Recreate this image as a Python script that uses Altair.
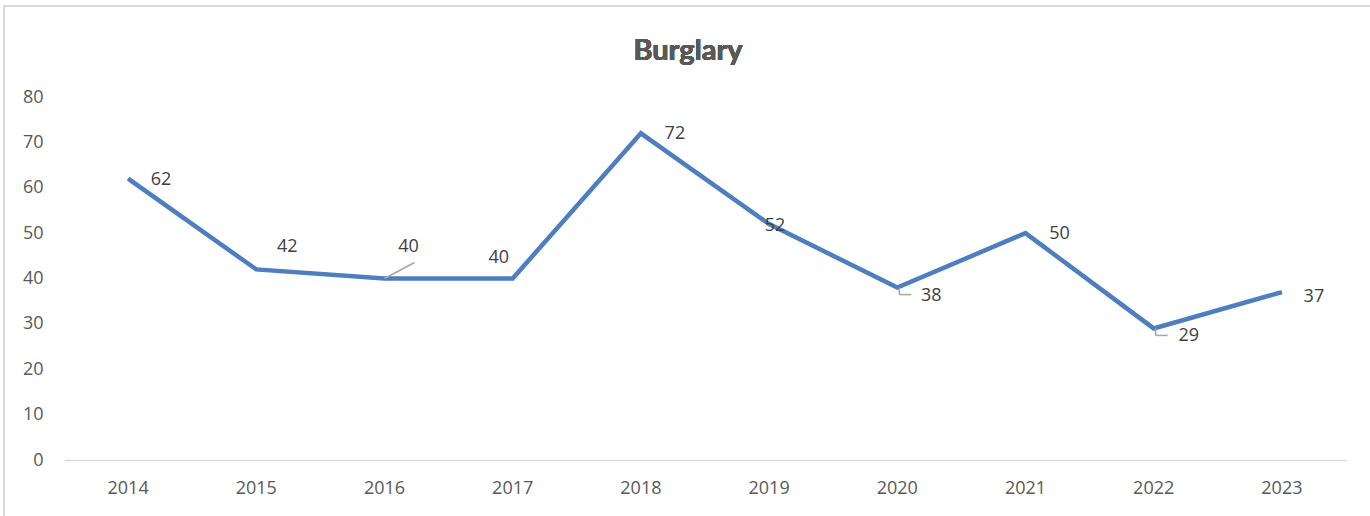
import altair as alt
import pandas as pd

years = ["2014", "2015", "2016", "2017", "2018", "2019", "2020", "2021", "2022", "2023"]
burglaries = [62, 42, 40, 40, 72, 52, 38, 50, 29, 37]

# pixel nudges for each value label (dx, dy), in the same order as the years
label_nudge = [(33, 1), (31, -22), (24, -32), (-14, -21), (34, 1),
               (6, 2), (34, 8), (34, 1), (35, 8), (32, 5)]

df = pd.DataFrame({"year": years, "count": burglaries})

W, H = 1282, 363
GREY_TEXT = "#595959"
LABEL_TEXT = "#404040"
FONT = "Open Sans"
FS = 18

x = alt.X("year:O", title=None,
          scale=alt.Scale(paddingInner=0, paddingOuter=0),
          axis=alt.Axis(labelAngle=0, ticks=False, domainColor="#d9d9d9",
                        domainWidth=1.3, labelPadding=19, labelFontSize=FS,
                        labelColor=GREY_TEXT, labelFont=FONT))
y = alt.Y("count:Q", title=None,
          scale=alt.Scale(domain=[0, 80], nice=False),
          axis=alt.Axis(values=list(range(0, 81, 10)), grid=False, domain=False,
                        ticks=False, labelPadding=21, labelFontSize=FS,
                        labelColor=GREY_TEXT, labelFont=FONT))

base = alt.Chart(df)

# light outline around the chart area
frame = base.mark_rect(fill=None, stroke="#d9d9d9", strokeWidth=1.5).encode(
    x=alt.value(-60), x2=alt.value(W + 60), y=alt.value(-91), y2=alt.value(H + 80)
)

title = base.mark_text(fontSize=29, fontWeight="bold", font="Lato", color=GREY_TEXT,
                       baseline="alphabetic").encode(
    x=alt.value(W / 2 - 17), y=alt.value(-37), text=alt.value("Burglary")
)

line = base.mark_line(color="#4d7ebf", strokeWidth=4.5, strokeJoin="miter").encode(x=x, y=y)

# leader lines for labels pulled away from their points
leader_diag = base.transform_filter(alt.datum.year == "2016").mark_rule(
    color="#a6a6a6", strokeWidth=1.5, x2Offset=30, y2Offset=-16
).encode(x="year:O", x2="year:O", y="count:Q", y2="count:Q")

elbow_years = ["2020", "2022"]
elbow_down = base.transform_filter(
    alt.FieldOneOfPredicate(field="year", oneOf=elbow_years)
).mark_rule(color="#a6a6a6", strokeWidth=1.5, xOffset=2, x2Offset=2, y2Offset=7).encode(
    x="year:O", x2="year:O", y="count:Q", y2="count:Q")
elbow_across = base.transform_filter(
    alt.FieldOneOfPredicate(field="year", oneOf=elbow_years)
).mark_rule(color="#a6a6a6", strokeWidth=1.5, xOffset=2, x2Offset=14,
            yOffset=7, y2Offset=7).encode(
    x="year:O", x2="year:O", y="count:Q", y2="count:Q")

labels = []
for yr, (ddx, ddy) in zip(years, label_nudge):
    labels.append(
        base.transform_filter(alt.datum.year == yr)
        .mark_text(dx=ddx, dy=ddy, fontSize=FS, font=FONT, color=LABEL_TEXT)
        .encode(x="year:O", y="count:Q", text="count:Q")
    )

chart = alt.layer(frame, title, line, leader_diag, elbow_down, elbow_across, *labels).properties(
    width=W, height=H,
    padding={"left": 64, "top": 97, "right": 24, "bottom": 56},
    autosize=alt.AutoSizeParams(type="none"),
).configure(background="white").configure_view(stroke=None)

chart.save("out.html", embed_options={"renderer": "svg", "actions": False})
